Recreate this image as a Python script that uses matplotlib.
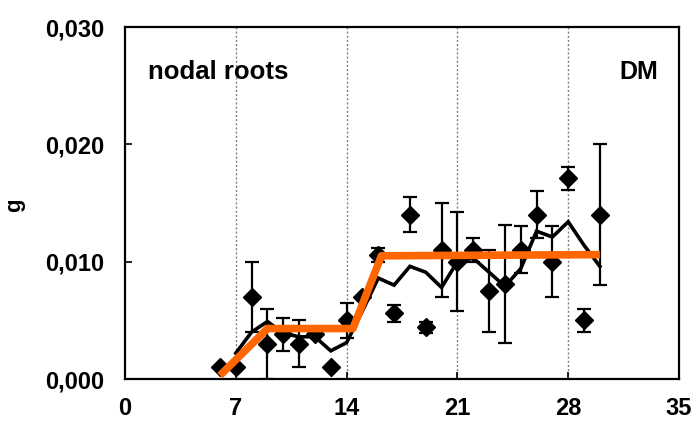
import matplotlib
matplotlib.use("Agg")
import matplotlib.pyplot as plt
from matplotlib.ticker import FixedLocator

plt.rcParams['font.family'] = ['Liberation Sans', 'DejaVu Sans']
plt.rcParams['font.weight'] = 'bold'

# Data
days = [6, 7, 8, 9, 10, 11, 12, 13, 14, 15, 16, 17, 18, 19, 20, 21, 22, 23, 24, 25, 26, 27, 28, 29, 30]
mean_g = [0.0010, 0.0010, 0.0070, 0.0030, 0.0038, 0.0030, 0.0038, 0.0010, 0.0050, 0.0070,
          0.0106, 0.0056, 0.0140, 0.0044, 0.0110, 0.0100, 0.0110, 0.0075, 0.0081, 0.0110,
          0.0140, 0.0100, 0.0171, 0.0050, 0.0140]
err_g = [0.0, 0.0, 0.0030, 0.0030, 0.0014, 0.0020, 0.0, 0.0, 0.0015, 0.0,
         0.0006, 0.0007, 0.0015, 0.0005, 0.0040, 0.0042, 0.0010, 0.0035, 0.0050, 0.0020,
         0.0020, 0.0030, 0.0010, 0.0010, 0.0060]

smooth_days = [7, 8, 9, 10, 11, 12, 13, 14, 15, 16, 17, 18, 19, 20, 21, 22, 23, 24, 25, 26, 27, 28, 29, 30]
smooth_g = [0.0022, 0.0040, 0.0049, 0.0039, 0.0036, 0.0036, 0.0024, 0.0031, 0.0058, 0.0086,
            0.0080, 0.0096, 0.0091, 0.0078, 0.0100, 0.0103, 0.0091, 0.0079, 0.0094, 0.0126,
            0.0121, 0.0134, 0.0114, 0.0096]

fit_days = [6, 9, 14.4, 16.2, 30]
fit_g = [0.0003, 0.0043, 0.0043, 0.0105, 0.0106]

xticks = [0, 7, 14, 21, 28, 35]
yticks = [0.000, 0.010, 0.020, 0.030]
ytick_labels = ["0,000", "0,010", "0,020", "0,030"]
grid_days = [7, 14, 21, 28]

fig = plt.figure(figsize=(6.96, 4.30), dpi=100)
ax = fig.add_axes([125/696, 51/430, (679-125)/696, (379-27)/430])

for gx in grid_days:
    ax.axvline(gx, color='#808080', lw=1.0, ls=(0, (1.5, 1.5)), zorder=1)

ax.errorbar(days, mean_g, yerr=err_g, fmt='D', color='black', ms=9,
            ecolor='black', elinewidth=1.6, capsize=5, capthick=1.6, zorder=3)
ax.plot(smooth_days, smooth_g, color='black', lw=2.6, zorder=4, solid_joinstyle='miter')
ax.plot(fit_days, fit_g, color='#FF6600', lw=5.5, zorder=5, solid_capstyle='butt')

ax.set_xlim(0, 35)
ax.set_ylim(0, 0.030)
ax.xaxis.set_major_locator(FixedLocator(xticks))
ax.set_yticks(yticks)
ax.set_yticklabels(ytick_labels)
ax.tick_params(axis='both', direction='in', length=5, width=1.2, labelsize=17)
ax.tick_params(axis='y', pad=15)
ax.tick_params(axis='x', pad=13)
for s in ax.spines.values():
    s.set_linewidth(1.6)

fig.text(15/696, 1 - 205/430, 'g', fontsize=16, fontweight='bold', rotation=90,
         ha='center', va='center')

ax.text(1.45, 0.0262, 'nodal roots', fontsize=18.5, fontweight='bold', va='center', ha='left')
ax.text(33.7, 0.0262, 'DM', fontsize=18, fontweight='bold', va='center', ha='right')

fig.savefig('out.png', dpi=100)
